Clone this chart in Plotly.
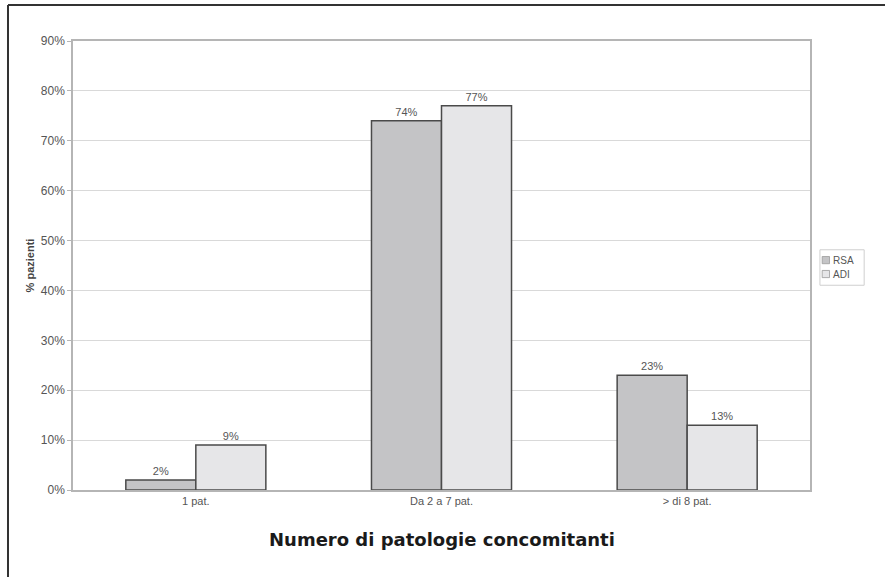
import plotly.graph_objects as go

categories = ["1 pat.", "Da 2 a 7 pat.", "> di 8 pat."]
rsa = [0.02, 0.74, 0.23]
adi = [0.09, 0.77, 0.13]
y_ticks = [0, 0.1, 0.2, 0.3, 0.4, 0.5, 0.6, 0.7, 0.8, 0.9]
series = [("RSA", rsa, "#c4c4c6"), ("ADI", adi, "#e6e6e8")]

FONT = "Liberation Sans, Arial, sans-serif"

fig = go.Figure()
for name, vals, color in series:
    fig.add_trace(go.Bar(
        name=name, x=categories, y=vals,
        marker=dict(color=color, line=dict(color="#4a4a4a", width=1.5)),
        text=[f"{round(v*100)}%" for v in vals],
        textposition="outside",
        textfont=dict(size=11, color="#555555", family=FONT),
        cliponaxis=False,
        showlegend=False,
    ))

# compact legend box drawn with shapes and labels (paper coordinates)
shapes = [
    dict(type="line", xref="paper", yref="paper",
         x0=-0.0882, x1=-0.0882, y0=1.080, y1=-0.2, line=dict(color="#333333", width=2)),
    dict(type="line", xref="paper", yref="paper",
         x0=-0.0882, x1=1.102, y0=1.080, y1=1.080, line=dict(color="#333333", width=2)),
    dict(type="rect", xref="paper", yref="paper",
         x0=1.0135, x1=1.0735, y0=0.456, y1=0.535,
         line=dict(color="#cfcfcf", width=1), fillcolor="white"),
]
annotations = [dict(
    text="<b>Numero di patologie concomitanti</b>",
    xref="paper", yref="paper", x=0.5, y=-0.111,
    xanchor="center", yanchor="middle", showarrow=False,
    font=dict(size=18, color="#1a1a1a", family="DejaVu Sans, sans-serif"),
)]
for i, (name, _, color) in enumerate(series):
    yc = 0.512 - i * 0.031
    shapes.append(dict(type="rect", xref="paper", yref="paper",
                       x0=1.0165, x1=1.0265, y0=yc - 0.008, y1=yc + 0.008,
                       line=dict(color="#9a9a9a", width=0.8), fillcolor=color))
    annotations.append(dict(text=name, xref="paper", yref="paper",
                            x=1.0285, y=yc, xanchor="left", yanchor="middle",
                            showarrow=False, font=dict(size=10, color="#555555", family=FONT)))

fig.update_layout(
    width=885, height=577,
    margin=dict(l=73, r=75, t=41, b=87, autoexpand=False),
    paper_bgcolor="white", plot_bgcolor="white",
    barmode="group", bargap=0.43, bargroupgap=0,
    font=dict(family=FONT, color="#555555", size=11),
    showlegend=False,
    xaxis=dict(
        showline=True, linecolor="#b5b5b5", linewidth=1.5, mirror=True,
        ticks="outside", ticklen=0, tickfont=dict(size=11, color="#555555"),
    ),
    yaxis=dict(
        range=[0, 0.9], tickvals=y_ticks, tickformat=".0%",
        showgrid=True, gridcolor="#d9d9d9", gridwidth=1.2,
        showline=True, linecolor="#b5b5b5", linewidth=1.5, mirror=True,
        ticks="outside", ticklen=4, tickcolor="#b5b5b5",
        tickfont=dict(size=12, color="#555555"),
        zeroline=False,
        title=dict(text="<b>% pazienti</b>", font=dict(size=11, color="#444444"), standoff=4),
    ),
    annotations=annotations,
    shapes=shapes,
)

fig.write_html("out.html")
